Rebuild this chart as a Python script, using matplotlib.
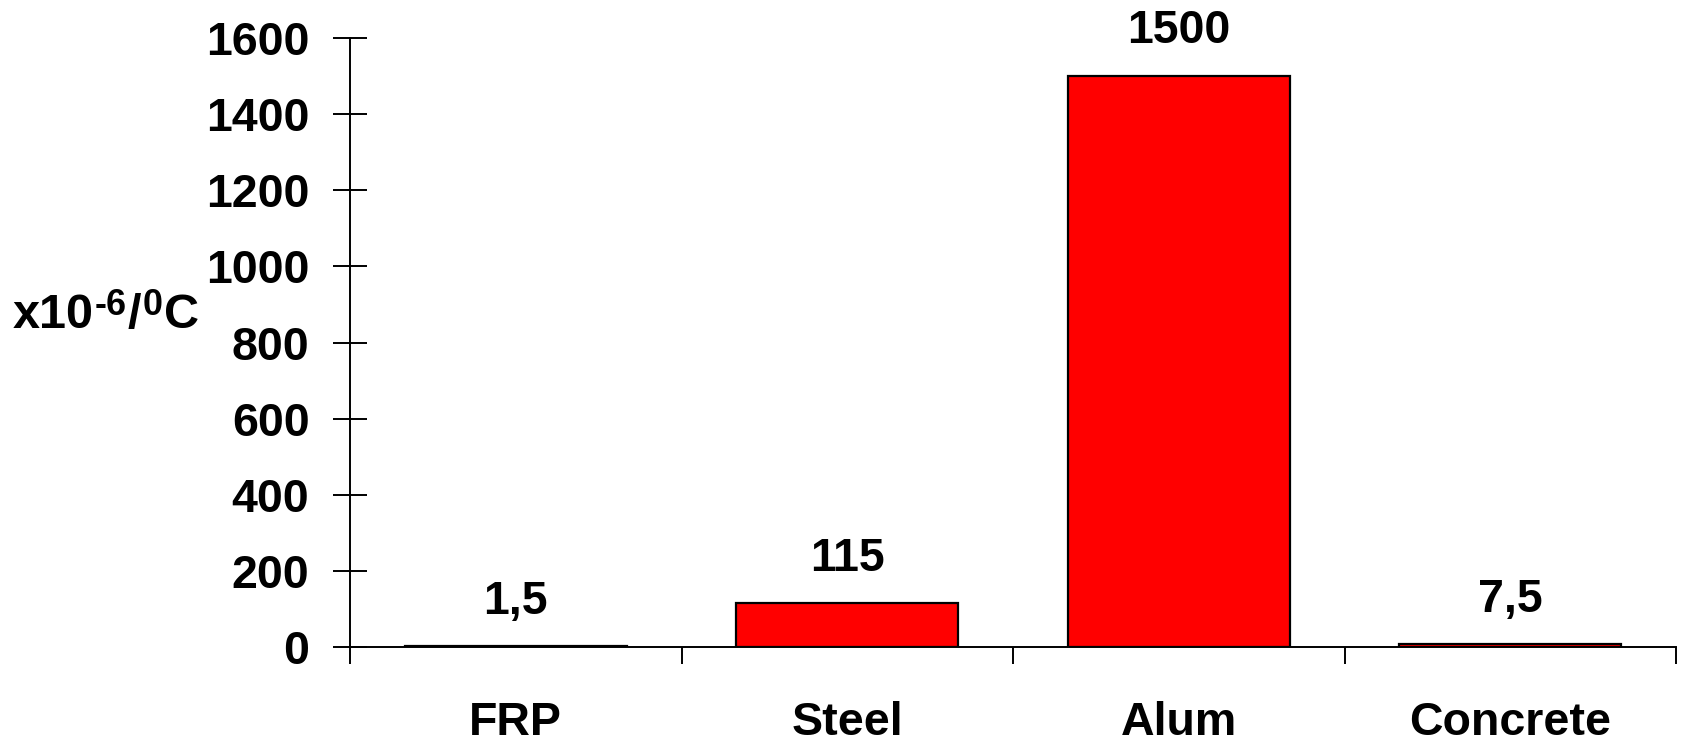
import matplotlib
matplotlib.use('Agg')
import matplotlib.pyplot as plt

# ── DATA
materials = ['FRP', 'Steel', 'Alum', 'Concrete']
expansion = [1.5, 115, 1500, 7.5]
y_ticks = [0, 200, 400, 600, 800, 1000, 1200, 1400, 1600]

plt.rcParams['font.family'] = ['Liberation Sans', 'DejaVu Sans']
plt.rcParams['font.weight'] = 'bold'

FS = 33.5

fig = plt.figure(figsize=(16.82, 7.5), dpi=100)
ax = fig.add_axes([350 / 1682, 1 - 647 / 750, 1326 / 1682, 609 / 750])

x = list(range(len(materials)))
bars = ax.bar(x, expansion, width=0.67, color='#ff0000',
              edgecolor='black', linewidth=1.6, zorder=3)

# value labels, decimal comma
for rect, v in zip(bars, expansion):
    txt = f"{v:g}".replace('.', ',')
    ax.annotate(txt, (rect.get_x() + rect.get_width() / 2, rect.get_height()),
                xytext=(0, 23.5), textcoords='offset points',
                ha='center', va='baseline', fontsize=FS, fontweight='bold')

ax.set_xlim(-0.5, len(materials) - 0.5)
ax.set_ylim(0, 1600)
ax.set_yticks(y_ticks)
ax.set_yticklabels([str(t) for t in y_ticks], fontsize=FS, fontweight='bold')
ax.set_xticks(x)
ax.set_xticklabels(materials, fontsize=FS, fontweight='bold')
ax.set_xticks([i - 0.5 for i in range(len(materials) + 1)], minor=True)

ax.tick_params(axis='y', direction='inout', length=24.5, width=1.4, pad=17)
ax.tick_params(axis='x', which='major', length=0, pad=39)
ax.tick_params(axis='x', which='minor', direction='out', length=12.2, width=1.4)

for s in ['top', 'right']:
    ax.spines[s].set_visible(False)
for s in ['left', 'bottom']:
    ax.spines[s].set_linewidth(1.4)
ax.spines['bottom'].set_zorder(4)

# unit label built from pieces so the superscripts keep a plain hyphen
renderer = fig.canvas.get_renderer()
LFS = 35
parts = [('x10', LFS, 0), ('-6', LFS * 0.74, 13), ('/', LFS, 0), ('0', LFS * 0.74, 13), ('C', LFS, 0)]
xpos = 13
base_y = 1 - 328 / 750
for s, size, rise in parts:
    t = fig.text(xpos / 1682, base_y + rise / 750, s, fontsize=size,
                 fontweight='bold', ha='left', va='baseline')
    bb = t.get_window_extent(renderer)
    xpos = bb.x1 + 1

fig.savefig('out.png', dpi=100)
